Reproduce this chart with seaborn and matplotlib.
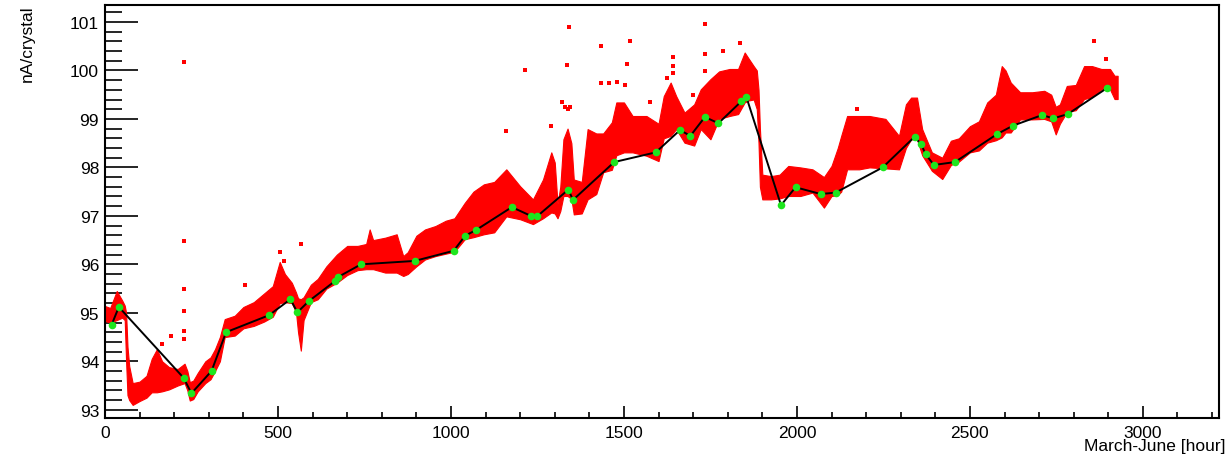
import matplotlib
matplotlib.use("Agg")
import matplotlib.pyplot as plt
from matplotlib.ticker import MultipleLocator
import pandas as pd
import seaborn as sns

# reference points (green, joined by the black line)
ref_hours = [19, 40, 227, 250, 308, 350, 474, 536, 556, 589, 664, 674, 740, 895,
             1008, 1041, 1073, 1176, 1231, 1249, 1339, 1353, 1472, 1592, 1662, 1692,
             1734, 1773, 1839, 1854, 1954, 1996, 2069, 2112, 2248, 2340, 2359, 2372,
             2396, 2457, 2577, 2624, 2709, 2741, 2783, 2895]
ref_current = [94.75, 95.12, 93.66, 93.34, 93.80, 94.60, 94.95, 95.28, 95.01, 95.24,
               95.65, 95.74, 96.00, 96.07, 96.28, 96.59, 96.71, 97.18, 97.00, 96.99,
               97.54, 97.33, 98.11, 98.31, 98.77, 98.65, 99.04, 98.91, 99.36, 99.45,
               97.22, 97.59, 97.45, 97.48, 98.00, 98.63, 98.48, 98.27, 98.05, 98.11,
               98.68, 98.86, 99.08, 99.01, 99.10, 99.63]

# spread of the dense red measurements: lower / upper edge
band_hours = [0, 15, 34, 50, 57, 61, 65, 70, 80, 100,
              120, 135, 150, 165, 185, 210, 230, 238, 245, 255,
              268, 290, 305, 318, 332, 346, 375, 400, 430, 460,
              485, 505, 520, 540, 552, 558, 566, 574, 595, 615,
              640, 670, 700, 730, 755, 765, 775, 810, 843, 862,
              875, 900, 925, 955, 985, 1010, 1040, 1065, 1095, 1125,
              1160, 1200, 1237, 1266, 1290, 1300, 1308, 1316, 1325, 1337,
              1348, 1355, 1378, 1395, 1420, 1440, 1465, 1478, 1500, 1525,
              1565, 1600, 1615, 1635, 1651, 1675, 1703, 1722, 1750, 1775,
              1805, 1830, 1849, 1860, 1875, 1884, 1889, 1893, 1900, 1925,
              1950, 1975, 2010, 2045, 2078, 2100, 2118, 2128, 2145, 2180,
              2210, 2256, 2295, 2315, 2330, 2347, 2362, 2390, 2420, 2445,
              2468, 2500, 2526, 2550, 2575, 2592, 2603, 2618, 2645, 2680,
              2715, 2735, 2748, 2760, 2780, 2806, 2830, 2853, 2880, 2905,
              2918, 2927]
band_low = [94.83, 94.80, 94.85, 94.90, 94.85, 94.00, 93.30, 93.20, 93.10, 93.18,
            93.25, 93.36, 93.36, 93.38, 93.42, 93.50, 93.55, 93.40, 93.19, 93.22,
            93.38, 93.55, 93.63, 93.80, 94.00, 94.50, 94.53, 94.68, 94.73, 94.82,
            94.92, 95.20, 95.22, 95.20, 95.02, 94.60, 94.22, 94.85, 95.22, 95.28,
            95.50, 95.62, 95.78, 95.88, 95.90, 95.90, 95.90, 95.83, 95.83, 95.76,
            95.80, 95.96, 96.10, 96.17, 96.22, 96.26, 96.52, 96.56, 96.62, 96.66,
            96.99, 96.93, 96.83, 96.95, 97.07, 97.05, 96.95, 97.10, 97.41, 97.41,
            97.35, 97.03, 97.05, 97.34, 97.45, 97.90, 97.95, 98.25, 98.31, 98.31,
            98.24, 98.13, 98.60, 98.65, 98.79, 98.51, 98.45, 98.79, 98.58, 99.00,
            99.06, 99.10, 99.34, 99.38, 99.40, 99.20, 98.50, 97.60, 97.34, 97.34,
            97.36, 97.41, 97.41, 97.48, 97.17, 97.41, 97.43, 97.50, 97.96, 97.96,
            98.00, 97.98, 97.96, 98.40, 98.58, 98.58, 98.25, 97.93, 97.76, 98.05,
            98.12, 98.31, 98.35, 98.51, 98.56, 98.62, 98.72, 98.72, 98.99, 98.99,
            99.00, 98.95, 98.68, 98.90, 99.14, 99.18, 99.41, 99.45, 99.61, 99.61,
            99.41, 99.41]
band_high = [95.14, 95.10, 95.45, 95.25, 95.15, 95.00, 94.30, 93.90, 93.55, 93.58,
             93.70, 94.05, 94.25, 94.00, 93.88, 93.84, 93.95, 93.80, 93.57, 93.60,
             93.76, 94.00, 94.08, 94.25, 94.50, 94.87, 94.94, 95.12, 95.22, 95.40,
             95.55, 96.05, 95.80, 95.62, 95.42, 95.30, 95.28, 95.32, 95.58, 95.70,
             95.96, 96.20, 96.38, 96.38, 96.42, 96.72, 96.50, 96.55, 96.62, 96.17,
             96.25, 96.59, 96.72, 96.79, 96.90, 96.95, 97.27, 97.50, 97.65, 97.70,
             97.96, 97.61, 97.34, 97.75, 98.31, 98.10, 97.25, 97.60, 98.58, 98.80,
             98.50, 97.75, 97.70, 98.79, 98.70, 98.70, 98.93, 99.34, 99.34, 99.06,
             99.06, 98.90, 99.47, 99.75, 99.47, 99.13, 99.30, 99.61, 99.82, 99.98,
             100.03, 100.03, 100.37, 100.25, 100.09, 100.00, 99.60, 98.80, 97.85, 97.82,
             97.85, 98.03, 98.00, 97.96, 97.80, 98.03, 98.40, 98.65, 99.06, 99.06,
             99.06, 99.00, 98.65, 99.30, 99.44, 99.44, 98.79, 98.31, 98.20, 98.55,
             98.60, 98.85, 98.95, 99.34, 99.50, 100.09, 100.00, 99.75, 99.55, 99.55,
             99.58, 99.50, 99.25, 99.30, 99.68, 99.70, 100.09, 100.09, 100.03, 100.03,
             99.89, 99.89]

# isolated red measurements away from the band
spike_hours = [164, 192, 227, 227, 227, 227, 227, 229, 404, 505, 517, 566, 1160, 1215,
               1288, 1322, 1330, 1336, 1337, 1342, 1345, 1434, 1434, 1456, 1480, 1503,
               1509, 1518, 1576, 1625, 1643, 1643, 1643, 1700, 1734, 1734, 1734, 1787,
               1836, 2174, 2858, 2892]
spike_current = [94.35, 94.53, 100.18, 96.48, 95.49, 95.04, 94.63, 94.45, 95.57, 96.25,
                 96.07, 96.41, 98.75, 100.00, 98.85, 99.35, 99.25, 100.11, 99.20, 100.90,
                 99.25, 100.50, 99.75, 99.74, 99.77, 99.70, 100.13, 100.61, 99.34, 99.84,
                 100.27, 100.10, 99.95, 99.50, 100.95, 100.33, 99.98, 100.40, 100.56, 99.20,
                 100.60, 100.23]

ref = pd.DataFrame({"hour": ref_hours, "current": ref_current})
band = pd.DataFrame({"hour": band_hours, "low": band_low, "high": band_high})
spikes = pd.DataFrame({"hour": spike_hours, "current": spike_current})

sns.set_theme(style="white")
plt.rcParams["font.family"] = ["Liberation Sans", "DejaVu Sans"]
plt.rcParams["text.color"] = "black"

fig = plt.figure(figsize=(12.27, 4.56), dpi=100)
ax = fig.add_axes([105 / 1227, 37 / 456, 1114 / 1227, 413 / 456])

ax.fill_between(band["hour"], band["low"], band["high"], color="#ff0000", lw=0.8,
                edgecolor="#ff0000", zorder=1)
sns.scatterplot(data=spikes, x="hour", y="current", color="#ff0000", s=6,
                linewidth=0, marker="s", ax=ax, zorder=2)
sns.lineplot(data=ref, x="hour", y="current", color="black", lw=1.4, sort=False,
             estimator=None, ax=ax, zorder=3)
sns.scatterplot(data=ref, x="hour", y="current", color="#1ee61e", s=30,
                linewidth=0, ax=ax, zorder=4)

ax.set_xlim(0, 3220)
ax.set_ylim(92.83, 101.35)
ax.xaxis.set_major_locator(MultipleLocator(500))
ax.xaxis.set_minor_locator(MultipleLocator(100))
ax.yaxis.set_major_locator(MultipleLocator(1))
ax.yaxis.set_minor_locator(MultipleLocator(0.2))
ax.tick_params(axis="both", which="both", direction="in", color="black",
               labelcolor="black", labelsize=12.5, width=1.2, top=False, right=False,
               left=True, bottom=True)
ax.tick_params(axis="y", which="major", length=23.8, pad=4.3)
ax.tick_params(axis="y", which="minor", length=12.2)
ax.tick_params(axis="x", which="major", length=8.6, pad=5)
ax.tick_params(axis="x", which="minor", length=4.3)
for s in ax.spines.values():
    s.set_color("black")
    s.set_linewidth(1.5)

ax.set_xlabel("")
ax.set_ylabel("")
fig.text(1225 / 1227, 1 - 447 / 456, "March-June [hour]", ha="right", va="center",
         fontsize=12.5, color="black")
fig.text(27.7 / 1227, 1 - 5 / 456, "nA/crystal", rotation=90, ha="center", va="top",
         fontsize=12.5, color="black")

fig.savefig("out.png", dpi=100)
